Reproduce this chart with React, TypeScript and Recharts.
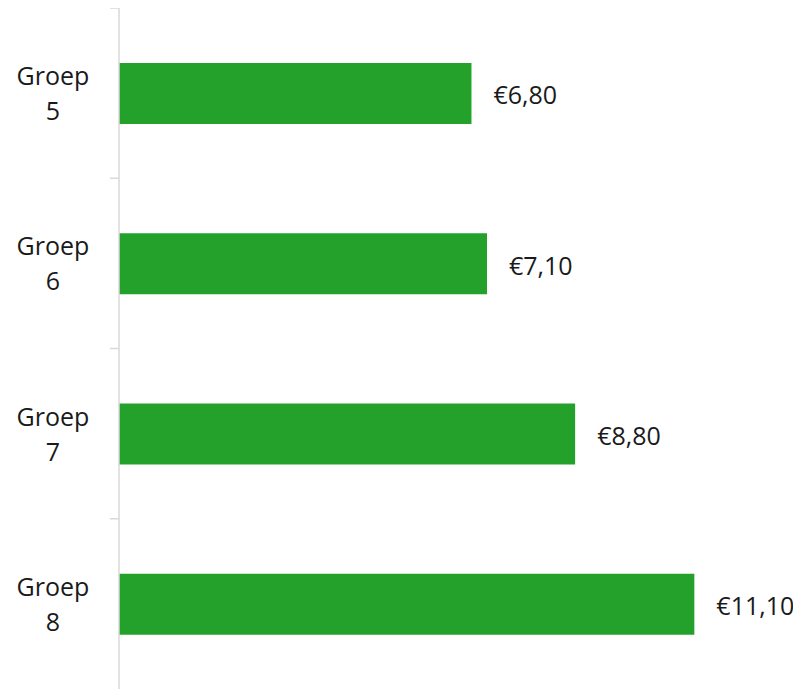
import { BarChart, Bar, XAxis, YAxis, LabelList } from "recharts";

const groups = ["Groep 5", "Groep 6", "Groep 7", "Groep 8"];
const amounts = [6.8, 7.1, 8.8, 11.1];

const data = groups.map((name, i) => ({ name, amount: amounts[i] }));

const WIDTH = 793;
const HEIGHT = 681;
const BAND = HEIGHT / groups.length;
const FONT = "'Open Sans', sans-serif";

// tick x arrives already shifted left of the axis line by the tick size
function GroupTick(props: any) {
  const { x, y, payload } = props;
  const ax = x + 8;
  const lines = String(payload.value).split(" ");
  return (
    <g>
      <line x1={ax - 9} x2={ax} y1={y - BAND / 2} y2={y - BAND / 2} stroke="#d9d9d9" strokeWidth={1.5} />
      <text x={ax - 66} y={y - 8} textAnchor="middle" fontSize={25} fill="#1a1a1a" fontFamily={FONT}>
        {lines.map((l, i) => (
          <tspan key={i} x={ax - 66} dy={i === 0 ? 0 : 35}>
            {l}
          </tspan>
        ))}
      </text>
    </g>
  );
}

const euro = (v: any) => "€" + Number(v).toFixed(2).replace(".", ",");

export default function App() {
  return (
    <div style={{ width: WIDTH, height: HEIGHT, fontFamily: FONT }}>
      <BarChart
        width={WIDTH}
        height={HEIGHT}
        data={data}
        layout="vertical"
        margin={{ top: 0, right: 60, left: 0, bottom: 0 }}
      >
        <XAxis type="number" domain={[0, 12]} hide />
        <YAxis
          type="category"
          dataKey="name"
          width={111}
          axisLine={{ stroke: "#d9d9d9", strokeWidth: 1.5 }}
          tickLine={false}
          tick={<GroupTick />}
          interval={0}
        />
        <Bar dataKey="amount" fill="#23a12b" barSize={61} isAnimationActive={false}>
          <LabelList
            dataKey="amount"
            position="right"
            offset={22}
            dy={2}
            formatter={euro}
            fill="#1a1a1a"
            fontSize={25}
            fontFamily={FONT}
          />
        </Bar>
      </BarChart>
    </div>
  );
}
